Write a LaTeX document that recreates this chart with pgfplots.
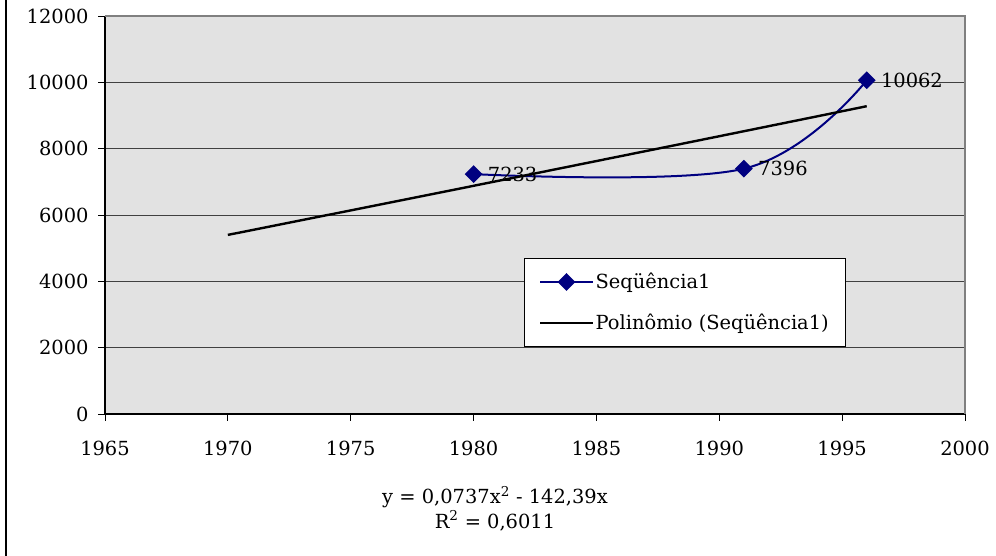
\documentclass[border=0pt]{standalone}
\usepackage{fontspec}
\setmainfont{DejaVu Serif}
\usepackage{pgfplots}
\pgfplotsset{compat=1.18}
\definecolor{navyblue}{HTML}{000080}
\definecolor{bgtex}{gray}{0.885}
\newcommand{\chf}{\fontsize{19.5}{23}\selectfont}
\begin{document}
\begin{tikzpicture}
\path[use as bounding box] (0,0) rectangle (996bp,556bp);
\draw[line width=1.3bp] (6bp,0) -- (6bp,556bp);
\begin{axis}[
  at={(105bp,142bp)}, anchor=south west,
  scale only axis, width=860bp, height=398bp,
  xmin=1965, xmax=2000, ymin=0, ymax=12000,
  xtick={1965,1970,...,2000}, ytick={0,2000,...,12000},
  scaled y ticks=false, scaled x ticks=false,
  axis lines=left, axis line style={-, line width=1.2bp, black},
  tick align=outside, major tick length=7bp,
  tick style={black, line width=0.9bp},
  ymajorgrids, grid style={black!75, line width=0.9bp},
  axis background/.style={fill=bgtex},
  /pgf/number format/assume math mode=true,
  /pgf/number format/set thousands separator={},
  font=\chf,
  ticklabel style={font=\chf},
  xticklabel style={yshift=-17bp},
  yticklabel style={xshift=-6bp},
  clip=false,
  legend style={at={(0.487,0.392)}, anchor=north west, draw=black, line width=0.9bp, fill=white,
    font=\chf, row sep=20bp, inner xsep=15bp, inner ysep=13bp,
    cells={anchor=west}},
  legend image code/.code={\draw[mark repeat=2,mark phase=2,#1] plot coordinates {(-3bp,0bp) (23bp,0bp) (49bp,0bp)};},
  after end axis/.code={\draw[black!50, line width=1.8bp] (rel axis cs:0,1) -- (rel axis cs:1,1) -- (rel axis cs:1,0);},
]
\addplot[navyblue, line width=2bp, smooth, tension=0.6, mark=diamond*, mark options={mark size=7.5bp, xscale=1.33, fill=navyblue, draw=navyblue},
  nodes near coords, point meta=explicit symbolic,
  every node near coord/.append style={anchor=west, xshift=10bp, font=\chf, black}]
  coordinates {(1980,7233)[7233] (1991,7396)[7396] (1996,10062)[10062]};
\addlegendentry{Seqüência1}
\addplot[black, line width=2.4bp, smooth] coordinates {
 (1970,5400) (1972,5695) (1974,5991) (1976,6287) (1978,6583) (1980,6880)
 (1982,7178) (1984,7477) (1986,7776) (1988,8075) (1990,8375) (1992,8676)
 (1994,8977) (1996,9280)};
\addlegendentry{Polinômio (Seqüência1)}
\end{axis}
\node[font=\chf] at (495bp,59bp) {y = 0,0737x\textsuperscript{2} - 142,39x};
\node[font=\chf] at (495bp,35bp) {R\textsuperscript{2} = 0,6011};
\end{tikzpicture}
\end{document}
